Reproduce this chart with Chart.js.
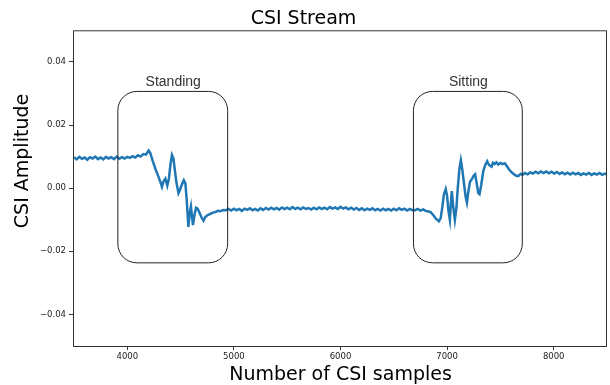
<!DOCTYPE html>
<html>
<head>
<meta charset="utf-8">
<script src="https://cdn.jsdelivr.net/npm/chart.js@4"></script>
<style>
  body { margin:0; background:#fff; }
  canvas { display:block; }
</style>
</head>
<body>
<canvas id="csiChart" width="610" height="385"></canvas>
<script>
// sample index / amplitude
const samples = [
  3500,3525,3550,3575,3600,3625,3650,3675,3700,3725,
  3750,3775,3800,3825,3850,3875,3900,3925,3950,3975,4000,
  4025,4050,4075,4100,4125,4150,4175,4200,4215,
  4240,4265,4290,4310,4325,4340,4357,4375,4390,4405,
  4419,4432,4445,4460,4480,4495,4510,4530,4545,4558,
  4573,4585,4597,4607,4616,4630,4645,4660,4680,4700,
  4715,4730,4750,4775,4800,4825,4850,4875,4900,4925,4950,
  4975,5000,5025,5050,5075,5100,5125,5150,5175,5200,
  5225,5250,5275,5300,5325,5350,5375,5400,5425,5450,
  5475,5500,5525,5550,5575,5600,5625,5650,5675,5700,
  5725,5750,5775,5800,5825,5850,5875,5900,5925,5950,
  5975,6000,6025,6050,6075,6100,6125,6150,6175,6200,
  6225,6250,6275,6300,6325,6350,6375,6400,6425,6450,
  6475,6500,6525,6550,6575,6600,6625,6650,6675,
  6700,6725,6750,6775,6800,6825,6845,6870,6895,6923,
  6940,6955,6970,6987,7000,7012,7026,7035,7044,7058,
  7073,7088,7100,7115,7129,7142,7160,7175,7186,7200,
  7215,7235,7250,7263,7280,7292,7304,7320,7340,7360,
  7376,7390,7405,7417,7430,7445,7463,7480,7500,7520,
  7541,7560,7580,7605,7625,7645,7668,7690,7710,7730,
  7755,7780,7805,7830,7855,7880,7905,7930,7955,7980,
  8005,8030,8055,8080,8105,8130,8155,8180,8205,8230,
  8255,8280,8305,8330,8355,8380,8405,8430,8455,8480,8500
];
const amplitude = [
  0.0098,0.0091,0.0099,0.0093,0.0097,0.0090,0.0098,0.0094,0.0100,0.0092,
  0.0097,0.0091,0.0099,0.0094,0.0098,0.0092,0.0100,0.0093,0.0098,0.0094,0.0099,
  0.0096,0.0101,0.0097,0.0104,0.0100,0.0108,0.0106,0.0119,0.0112,
  0.0085,0.0060,0.0038,0.0020,0.0004,0.0022,0.0030,0.0008,0.0030,0.0075,
  0.0105,0.0095,0.0060,0.0020,-0.0016,-0.0005,0.0010,0.0025,0.0015,-0.0040,
  -0.0123,-0.0080,-0.0058,-0.0090,-0.0117,-0.0085,-0.0062,-0.0065,-0.0080,-0.0095,
  -0.0103,-0.0092,-0.0086,-0.0082,-0.0078,-0.0076,-0.0072,-0.0073,-0.0069,-0.0070,-0.0066,
  -0.0071,-0.0065,-0.0070,-0.0066,-0.0072,-0.0065,-0.0069,-0.0064,-0.0070,-0.0066,
  -0.0071,-0.0064,-0.0069,-0.0063,-0.0068,-0.0062,-0.0067,-0.0063,-0.0068,-0.0061,
  -0.0066,-0.0062,-0.0067,-0.0060,-0.0066,-0.0062,-0.0067,-0.0061,-0.0066,-0.0063,
  -0.0068,-0.0062,-0.0067,-0.0061,-0.0066,-0.0062,-0.0067,-0.0060,-0.0065,-0.0061,
  -0.0066,-0.0059,-0.0065,-0.0061,-0.0067,-0.0062,-0.0068,-0.0063,-0.0069,-0.0064,
  -0.0070,-0.0065,-0.0069,-0.0064,-0.0070,-0.0066,-0.0071,-0.0065,-0.0070,-0.0066,
  -0.0071,-0.0065,-0.0070,-0.0064,-0.0069,-0.0065,-0.0071,-0.0066,-0.0070,
  -0.0070,-0.0066,-0.0071,-0.0067,-0.0072,-0.0074,-0.0076,-0.0085,-0.0097,-0.0105,
  -0.0095,-0.0060,-0.0020,-0.0003,-0.0025,-0.0070,-0.0100,-0.0050,-0.0009,-0.0060,
  -0.0100,-0.0060,0.0000,0.0060,0.0088,0.0060,0.0010,-0.0030,-0.0046,-0.0010,
  0.0020,0.0030,0.0040,0.0044,0.0010,-0.0015,-0.0019,0.0010,0.0055,0.0075,
  0.0085,0.0075,0.0070,0.0068,0.0080,0.0076,0.0082,0.0075,0.0080,0.0076,
  0.0079,0.0070,0.0060,0.0050,0.0045,0.0040,0.0038,0.0045,0.0043,0.0048,
  0.0044,0.0050,0.0046,0.0052,0.0047,0.0053,0.0048,0.0053,0.0047,0.0052,
  0.0046,0.0051,0.0045,0.0050,0.0044,0.0049,0.0043,0.0049,0.0044,0.0048,
  0.0042,0.0047,0.0043,0.0048,0.0042,0.0047,0.0043,0.0048,0.0042,0.0046,0.0043
];
const xTicks = [4000,5000,6000,7000,8000];
const yTicks = [-0.04,-0.02,0,0.02,0.04];
const activityLabels = ['Standing','Sitting'];

const boxes = [
  {label:activityLabels[0], x0:3916, x1:4946, y0:-0.0235, y1:0.0308},
  {label:activityLabels[1], x0:6689, x1:7710, y0:-0.0235, y1:0.0308}
];

const framePlugin = {
  id:'frameAndBoxes',
  afterDatasetsDraw(chart){
    const {ctx, chartArea:a, scales:{x, y}} = chart;
    ctx.save();
    ctx.strokeStyle = '#222';
    ctx.lineWidth = 1;
    boxes.forEach(b => {
      const l = x.getPixelForValue(b.x0), r = x.getPixelForValue(b.x1);
      const t = y.getPixelForValue(b.y1), bt = y.getPixelForValue(b.y0);
      ctx.beginPath();
      ctx.roundRect(l - .5, t + .5, r - l, bt - t, 19);
      ctx.stroke();
      ctx.fillStyle = '#333';
      ctx.font = "14px 'Liberation Sans', Arial, sans-serif";
      ctx.textAlign = 'center';
      ctx.textBaseline = 'alphabetic';
      ctx.fillText(b.label, (l + r) / 2, t - 5);
    });
    ctx.strokeStyle = '#333';
    ctx.strokeRect(a.left - .5, a.top + .5, a.right - a.left, a.bottom - a.top);

    // y axis title sits above the axis middle in the original
    ctx.translate(23, 161);
    ctx.rotate(-Math.PI / 2);
    ctx.fillStyle = '#000';
    ctx.font = "19px 'DejaVu Sans', sans-serif";
    ctx.textAlign = 'center';
    ctx.textBaseline = 'middle';
    ctx.fillText('CSI Amplitude', 0, 0);
    ctx.restore();
  }
};

const tickFont = {family:"'DejaVu Sans', sans-serif", size:8.5};
const titleFont = {family:"'DejaVu Sans', sans-serif", size:19, weight:'normal'};

new Chart(document.getElementById('csiChart').getContext('2d'), {
  type:'line',
  data:{
    datasets:[{
      data: samples.map((s, i) => ({x:s, y:amplitude[i]})),
      borderColor:'#1f77b4', borderWidth:2.5,
      pointRadius:0, tension:0, fill:false
    }]
  },
  options:{
    responsive:false, animation:false, devicePixelRatio:1,
    layout:{padding:{left:0, right:3, top:0, bottom:0}},
    plugins:{
      legend:{display:false}, tooltip:{enabled:false},
      title:{display:true, text:'CSI Stream', color:'#000',
        font:{...titleFont, lineHeight:1.2}, padding:{top:7.5, bottom:0}}
    },
    scales:{
      x:{
        type:'linear', min:3500, max:8500,
        afterBuildTicks:s => { s.ticks = xTicks.map(v => ({value:v})); },
        afterFit:s => { s.height = 39; },
        grid:{drawOnChartArea:false, tickLength:4, tickColor:'#333'},
        border:{display:false},
        ticks:{color:'#222', font:tickFont, padding:2, maxRotation:0, callback:v => String(v)},
        title:{display:true, text:'Number of CSI samples', color:'#000',
          font:{...titleFont, lineHeight:1}, padding:{top:0.5, bottom:0}}
      },
      y:{
        min:-0.05, max:0.05,
        afterBuildTicks:s => { s.ticks = yTicks.map(v => ({value:v})); },
        afterFit:s => { s.width = 74; },
        grid:{drawOnChartArea:false, tickLength:5, tickColor:'#333'},
        border:{display:false},
        ticks:{color:'#222', font:tickFont, padding:3,
          callback:v => (v < -1e-9 ? '\u2212' : '') + Math.abs(v).toFixed(2)}
      }
    }
  },
  plugins:[framePlugin]
});
</script>
</body>
</html>
